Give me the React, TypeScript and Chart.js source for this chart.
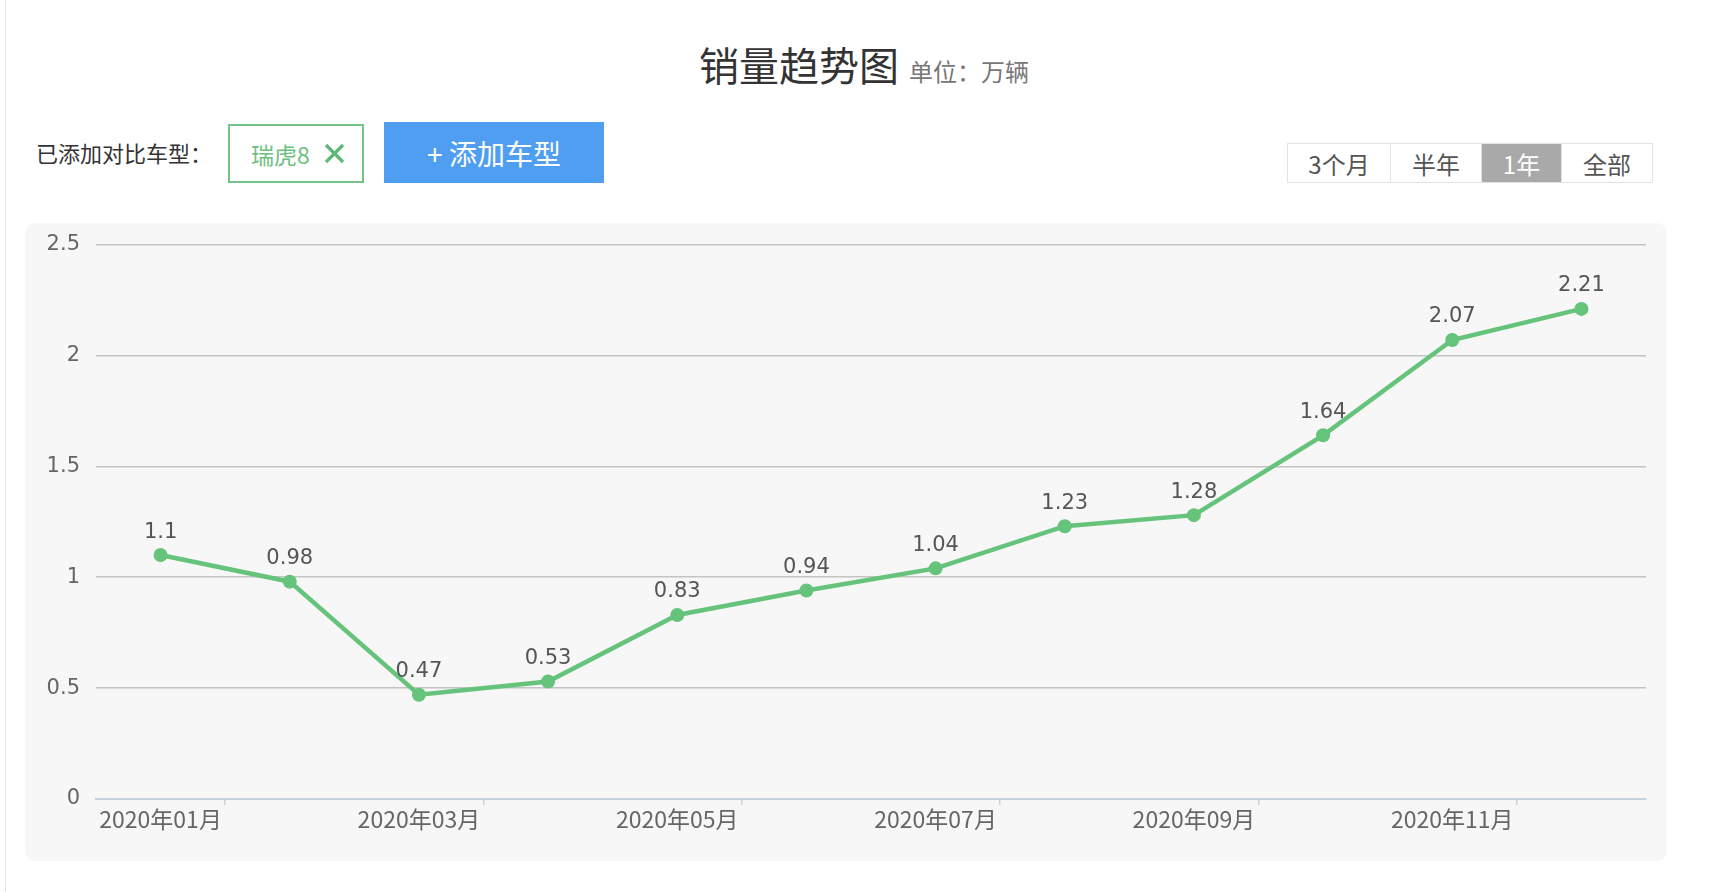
import { useEffect, useRef } from 'react'
import { Chart, registerables } from 'chart.js'

Chart.register(...registerables)

// data
const months = [
  '2020年01月', '2020年02月', '2020年03月', '2020年04月', '2020年05月', '2020年06月',
  '2020年07月', '2020年08月', '2020年09月', '2020年10月', '2020年11月', '2020年12月',
]
const sales = [1.1, 0.98, 0.47, 0.53, 0.83, 0.94, 1.04, 1.23, 1.28, 1.64, 2.07, 2.21]
const yTickValues = [0, 0.5, 1, 1.5, 2, 2.5]
const rangeOptions = ['3个月', '半年', '1年', '全部']
const activeRange = '1年'

const GREEN = '#66c37c'
const CJK = '"Noto Sans CJK SC", "Noto Sans", sans-serif'
const NUM = '"DejaVu Sans", "Noto Sans", sans-serif'

// draws the value above every point
const valueLabels = {
  id: 'valueLabels',
  afterDatasetsDraw(chart: Chart) {
    const { ctx } = chart
    const meta = chart.getDatasetMeta(0)
    ctx.save()
    ctx.font = `21px ${NUM}`
    ctx.fillStyle = '#555'
    ctx.textAlign = 'center'
    ctx.textBaseline = 'middle'
    meta.data.forEach((pt: any, i: number) => {
      ctx.fillText(String(sales[i]), pt.x, pt.y - 23)
    })
    ctx.restore()
  },
}

function SalesChart() {
  const canvasRef = useRef<HTMLCanvasElement>(null)
  const chartRef = useRef<Chart | null>(null)

  useEffect(() => {
    if (!canvasRef.current) return
    if (chartRef.current) chartRef.current.destroy()
    const ctx = canvasRef.current.getContext('2d')
    if (!ctx) return

    chartRef.current = new Chart(ctx, {
      type: 'line',
      data: {
        labels: months,
        datasets: [
          {
            label: '瑞虎8',
            data: sales,
            borderColor: GREEN,
            backgroundColor: GREEN,
            borderWidth: 4.5,
            pointRadius: 7,
            pointBackgroundColor: GREEN,
            pointBorderWidth: 0,
            tension: 0,
          },
        ],
      },
      options: {
        animation: false,
        responsive: true,
        maintainAspectRatio: false,
        layout: { padding: { top: 13, right: 21, left: 0, bottom: 0 } },
        plugins: {
          legend: { display: false },
          tooltip: { enabled: false },
        },
        scales: {
          x: {
            type: 'category',
            offset: true,
            afterFit: (scale: any) => {
              scale.height = 62
            },
            grid: {
              offset: true,
              drawOnChartArea: false,
              drawTicks: true,
              tickLength: 6,
              lineWidth: 1.5,
              color: (c: any) => (c.index % 2 === 1 ? '#c6d1de' : 'transparent'),
            },
            border: { color: '#c6d1de', width: 2 },
            ticks: {
              autoSkip: false,
              maxRotation: 0,
              padding: 0,
              color: '#666',
              font: { size: 23, family: CJK },
              callback: (_v: any, i: number) => (i % 2 === 0 ? months[i] : ''),
            },
          },
          y: {
            min: yTickValues[0],
            max: yTickValues[yTickValues.length - 1],
            afterFit: (scale: any) => {
              scale.width = 71
            },
            afterBuildTicks: (scale: any) => {
              scale.ticks = yTickValues.map((v) => ({ value: v }))
            },
            border: { display: false },
            grid: { color: '#c4c4c4', lineWidth: 1.5, drawTicks: false },
            ticks: {
              padding: 16,
              color: '#666',
              font: { size: 21, family: NUM },
              callback: (v: any) => String(v),
            },
          },
        },
      },
      plugins: [valueLabels],
    })

    return () => {
      if (chartRef.current) {
        chartRef.current.destroy()
        chartRef.current = null
      }
    }
  }, [])

  return <canvas ref={canvasRef}></canvas>
}

export default function App() {
  return (
    <div
      style={{
        position: 'absolute',
        left: 0,
        top: 0,
        width: 1713,
        height: 892,
        overflow: 'hidden',
        background: '#fff',
        fontFamily: CJK,
      }}
    >
      {/* page edge */}
      <div style={{ position: 'absolute', left: 5, top: 0, width: 1, height: 892, background: '#e6e6e6' }} />

      {/* title */}
      <div style={{ position: 'absolute', left: 699, top: 35, whiteSpace: 'nowrap', display: 'flex', alignItems: 'baseline' }}>
        <span style={{ fontSize: 40, color: '#333' }}>销量趋势图</span>
        <span style={{ fontSize: 24, color: '#777', marginLeft: 10 }}>单位：万辆</span>
      </div>

      {/* compare row */}
      <div style={{ position: 'absolute', left: 36, top: 136, fontSize: 22, color: '#333', lineHeight: '32px' }}>
        已添加对比车型：
      </div>
      <div
        style={{
          position: 'absolute',
          left: 228,
          top: 124,
          width: 136,
          height: 59,
          boxSizing: 'border-box',
          border: '2px solid #74c388',
          display: 'flex',
          alignItems: 'center',
          paddingLeft: 21,
          color: '#6dbf7f',
          fontSize: 23,
        }}
      >
        <span>瑞虎8</span>
        <svg width="21" height="21" viewBox="0 0 21 21" style={{ marginLeft: 14 }}>
          <line x1="2" y1="2" x2="19" y2="19" stroke="#5cb874" strokeWidth="3.2" />
          <line x1="19" y1="2" x2="2" y2="19" stroke="#5cb874" strokeWidth="3.2" />
        </svg>
      </div>
      <div
        style={{
          position: 'absolute',
          left: 384,
          top: 122,
          width: 220,
          height: 61,
          background: '#4f9ef2',
          color: '#fff',
          fontSize: 28,
          display: 'flex',
          alignItems: 'center',
          justifyContent: 'center',
          whiteSpace: 'pre',
        }}
      >
        {'+ 添加车型'}
      </div>

      {/* range switch */}
      <div
        style={{
          position: 'absolute',
          left: 1287,
          top: 143,
          height: 40,
          display: 'flex',
          border: '1px solid #e2e2e2',
          boxSizing: 'border-box',
        }}
      >
        {rangeOptions.map((r, i) => (
          <div
            key={r}
            style={{
              width: [103, 91, 80, 91][i] - (i === 0 ? 1 : 0),
              height: 38,
              display: 'flex',
              alignItems: 'center',
              justifyContent: 'center',
              fontSize: 24,
              color: r === activeRange ? '#fff' : '#555',
              background: r === activeRange ? '#a9a9a9' : '#fff',
              borderLeft: i === 0 ? 'none' : '1px solid #e2e2e2',
              boxSizing: 'border-box',
            }}
          >
            {r}
          </div>
        ))}
      </div>

      {/* chart panel */}
      <div
        style={{
          position: 'absolute',
          left: 25,
          top: 223,
          width: 1642,
          height: 638,
          background: '#f7f7f7',
          borderRadius: 10,
        }}
      >
        <div style={{ position: 'absolute', left: 0, top: -7, width: 1642, height: 645 }}>
          <SalesChart />
        </div>
      </div>
    </div>
  )
}
